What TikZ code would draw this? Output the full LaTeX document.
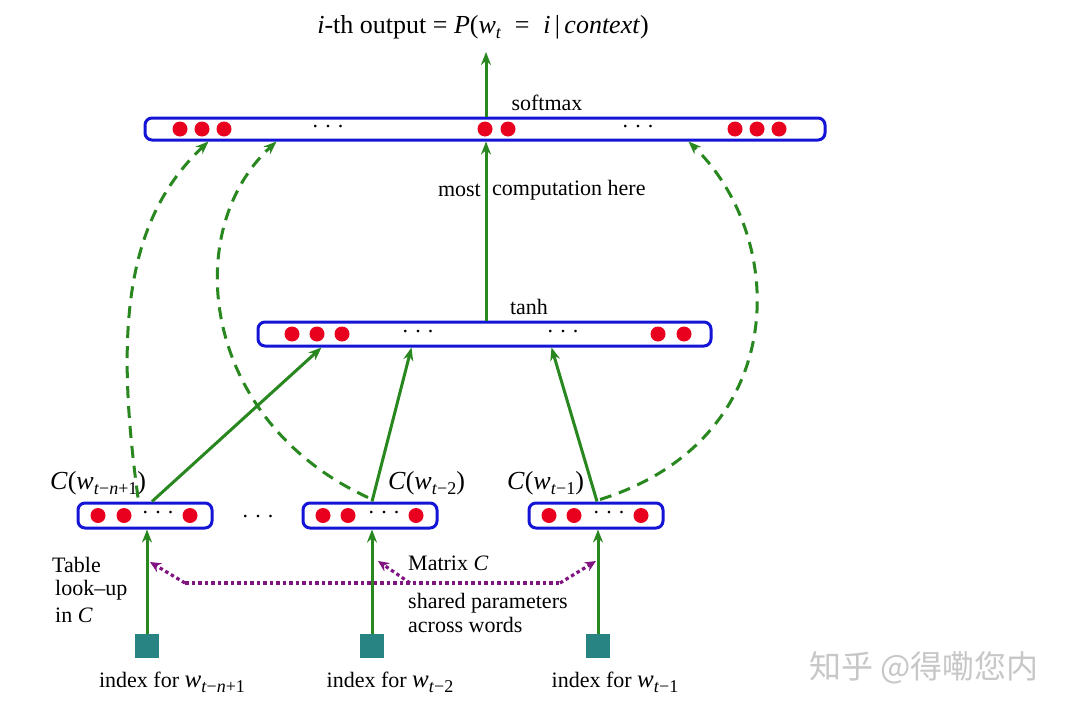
\documentclass[tikz,border=0pt]{standalone}
\usepackage{fontspec}
\setmainfont{Liberation Serif}
\newfontfamily\cjk{Noto Sans CJK SC}
\usetikzlibrary{arrows.meta,calc}
\definecolor{grn}{RGB}{40,135,30}
\definecolor{blu}{RGB}{20,20,215}
\definecolor{rd}{RGB}{232,0,30}
\definecolor{tl}{RGB}{40,132,130}
\definecolor{pur}{RGB}{128,20,128}
\newcommand{\vv}[1]{\textit{#1}}
\newcommand{\mysub}[1]{\raisebox{-0.22em}{\fontsize{18}{20}\selectfont #1}}
\newcommand{\threedots}{.\hspace{0.32em}.\hspace{0.32em}.}
\begin{document}
\begin{tikzpicture}[x=1pt,y=-1pt,
  layer/.style={draw=blu, line width=3pt, rounded corners=7pt, minimum height=22pt, inner sep=0pt},
  neuron/.style={circle, fill=rd, minimum size=15pt, inner sep=0pt},
  idx/.style={fill=tl, minimum size=24pt, inner sep=0pt},
  garrow/.style={draw=grn, line width=3pt, -{Stealth[length=13pt,width=10pt]}},
  gdash/.style={garrow, dash pattern=on 12pt off 8pt},
  pdot/.style={draw=pur, line width=3.2pt, dash pattern=on 3.5pt off 3pt},
  ptip/.style={-{Stealth[length=11pt,width=10pt]}},
  lbl/.style={font=\fontsize{22}{25}\selectfont, inner sep=0pt},
  big/.style={font=\fontsize{26}{29}\selectfont, inner sep=0pt},
  dotsl/.style={font=\fontsize{22}{25}\selectfont, inner sep=0pt}
]
\useasboundingbox[fill=white] (0,0) rectangle (1066,715);

% layers
\node[layer, minimum width=680pt] (soft) at (485,129) {};
\node[layer, minimum width=453pt, minimum height=24pt] (tanh) at (484.5,334) {};
\node[layer, minimum width=134pt, minimum height=25pt] (b1) at (145,515.5) {};
\node[layer, minimum width=134pt, minimum height=25pt] (b2) at (370,515.5) {};
\node[layer, minimum width=134pt, minimum height=25pt] (b3) at (596,515.5) {};

% neurons softmax
\foreach \x/\n in {180/s1,202/s2,224/s3,485/s4,508/s5,735/s6,757/s7,779/s8}
  \node[neuron] (\n) at (\x,129) {};
\node[dotsl] (sd1) at (328,127) {\threedots};
\node[dotsl] (sd2) at (638,127) {\threedots};
% neurons tanh
\foreach \x/\n in {292/t1,317/t2,342/t3,658/t4,684/t5}
  \node[neuron] (\n) at (\x,334) {};
\node[dotsl] (td1) at (418,332) {\threedots};
\node[dotsl] (td2) at (563,332) {\threedots};
% neurons bottom
\foreach \x/\n in {98/a1,124/a2,190/a3,323/c1,348/c2,416/c3,549/d1,574/d2,641/d3}
  \node[neuron] (\n) at (\x,515.5) {};
\node[dotsl] (ad) at (158,513) {\threedots};
\node[dotsl] (cd) at (384,513) {\threedots};
\node[dotsl] (dd) at (609,513) {\threedots};
\node[dotsl] (mid) at (258,517) {\threedots};

% index squares
\node[idx] (i1) at (147,646) {};
\node[idx] (i2) at (372,646) {};
\node[idx] (i3) at (598,646) {};

% labels
\node[big] (title) at (483,27) {\vv{i}-th output = \vv{P}(\vv{w}\mysub{\vv{t}} \;=\; \vv{i}\,|\,\vv{context})};
\node[lbl] (lsoft) at (547,103) {softmax};
\node[lbl] (ltanh) at (529,307) {tanh};
\node[lbl, anchor=east] (lmost) at (481,190) {most};
\node[lbl, anchor=west] (lcomp) at (492,190) {computation here};
\node[big, anchor=west] (lc1) at (50,483) {\vv{C}(\vv{w}\mysub{\vv{t}−\vv{n}+1})};
\node[big, anchor=west] (lc2) at (388,483) {\vv{C}(\vv{w}\mysub{\vv{t}−2})};
\node[big, anchor=west] (lc3) at (507,483) {\vv{C}(\vv{w}\mysub{\vv{t}−1})};
\node[lbl, anchor=west] (ltab1) at (52,565) {Table};
\node[lbl, anchor=west] (ltab2) at (55,590) {look–up};
\node[lbl, anchor=west] (ltab3) at (55,615) {in \vv{C}};
\node[lbl, anchor=west] (lmat) at (408,563) {Matrix \vv{C}};
\node[lbl, anchor=west] (lsh1) at (408,603) {shared parameters};
\node[lbl, anchor=west] (lsh2) at (408,625) {across words};
\node[lbl] (lx1) at (172,682) {index for {\fontsize{25}{28}\selectfont\vv{w}}\mysub{\vv{t}−\vv{n}+1}};
\node[lbl] (lx2) at (390,682) {index for {\fontsize{25}{28}\selectfont\vv{w}}\mysub{\vv{t}−2}};
\node[lbl] (lx3) at (615,682) {index for {\fontsize{25}{28}\selectfont\vv{w}}\mysub{\vv{t}−1}};
\node[font=\cjk\fontsize{32}{35}\selectfont, text=black!22, inner sep=0pt] (wm) at (924,668) {知乎 @得嘞您内};

% output arrow
\coordinate (out) at (486,52);
\draw[garrow] (soft.north -| out) -- (out);
% tanh -> softmax
\draw[garrow] (tanh.north -| out) -- (soft.south -| out);
% bottom -> tanh
\draw[garrow] ($(b1.north)+(7,0)$) -- ($(tanh.south west)+(65,0)$);
\draw[garrow] ($(b2.north)+(2,0)$) -- ($(tanh.south west)+(155,0)$);
\draw[garrow] ($(b3.north)+(1,0)$) -- ($(tanh.south west)+(295,0)$);
% index -> boxes
\draw[garrow] (i1.north) -- (i1.north |- b1.south);
\draw[garrow] (i2.north) -- (i2.north |- b2.south);
\draw[garrow] (i3.north) -- (i3.north |- b3.south);
% dashed skip connections
\draw[gdash] ($(b1.north)+(-7,-4)$) .. controls (115,330) and (125,220) .. ($(soft.south west)+(65,0)$);
\draw[gdash] ($(b2.north)+(-2,-4)$) .. controls (200,420) and (180,230) .. ($(soft.south west)+(133,0)$);
\draw[gdash] ($(b3.north)+(4,-2)$) .. controls (790,440) and (790,240) .. ($(soft.south west)+(545,0)$);
% dotted matrix C
\coordinate (pl) at (185,583);
\coordinate (pm) at (410,583);
\coordinate (pr) at (560,583);
\coordinate (tA) at (150,562);
\coordinate (tB) at (378,561);
\coordinate (tC) at (596,561);
\draw[pdot] (pl) -- (pr);
\draw[pdot, ptip] (pl) -- (tA);
\draw[pdot, ptip] (pm) -- (tB);
\draw[pdot, ptip] (pr) -- (tC);
\end{tikzpicture}
\end{document}
